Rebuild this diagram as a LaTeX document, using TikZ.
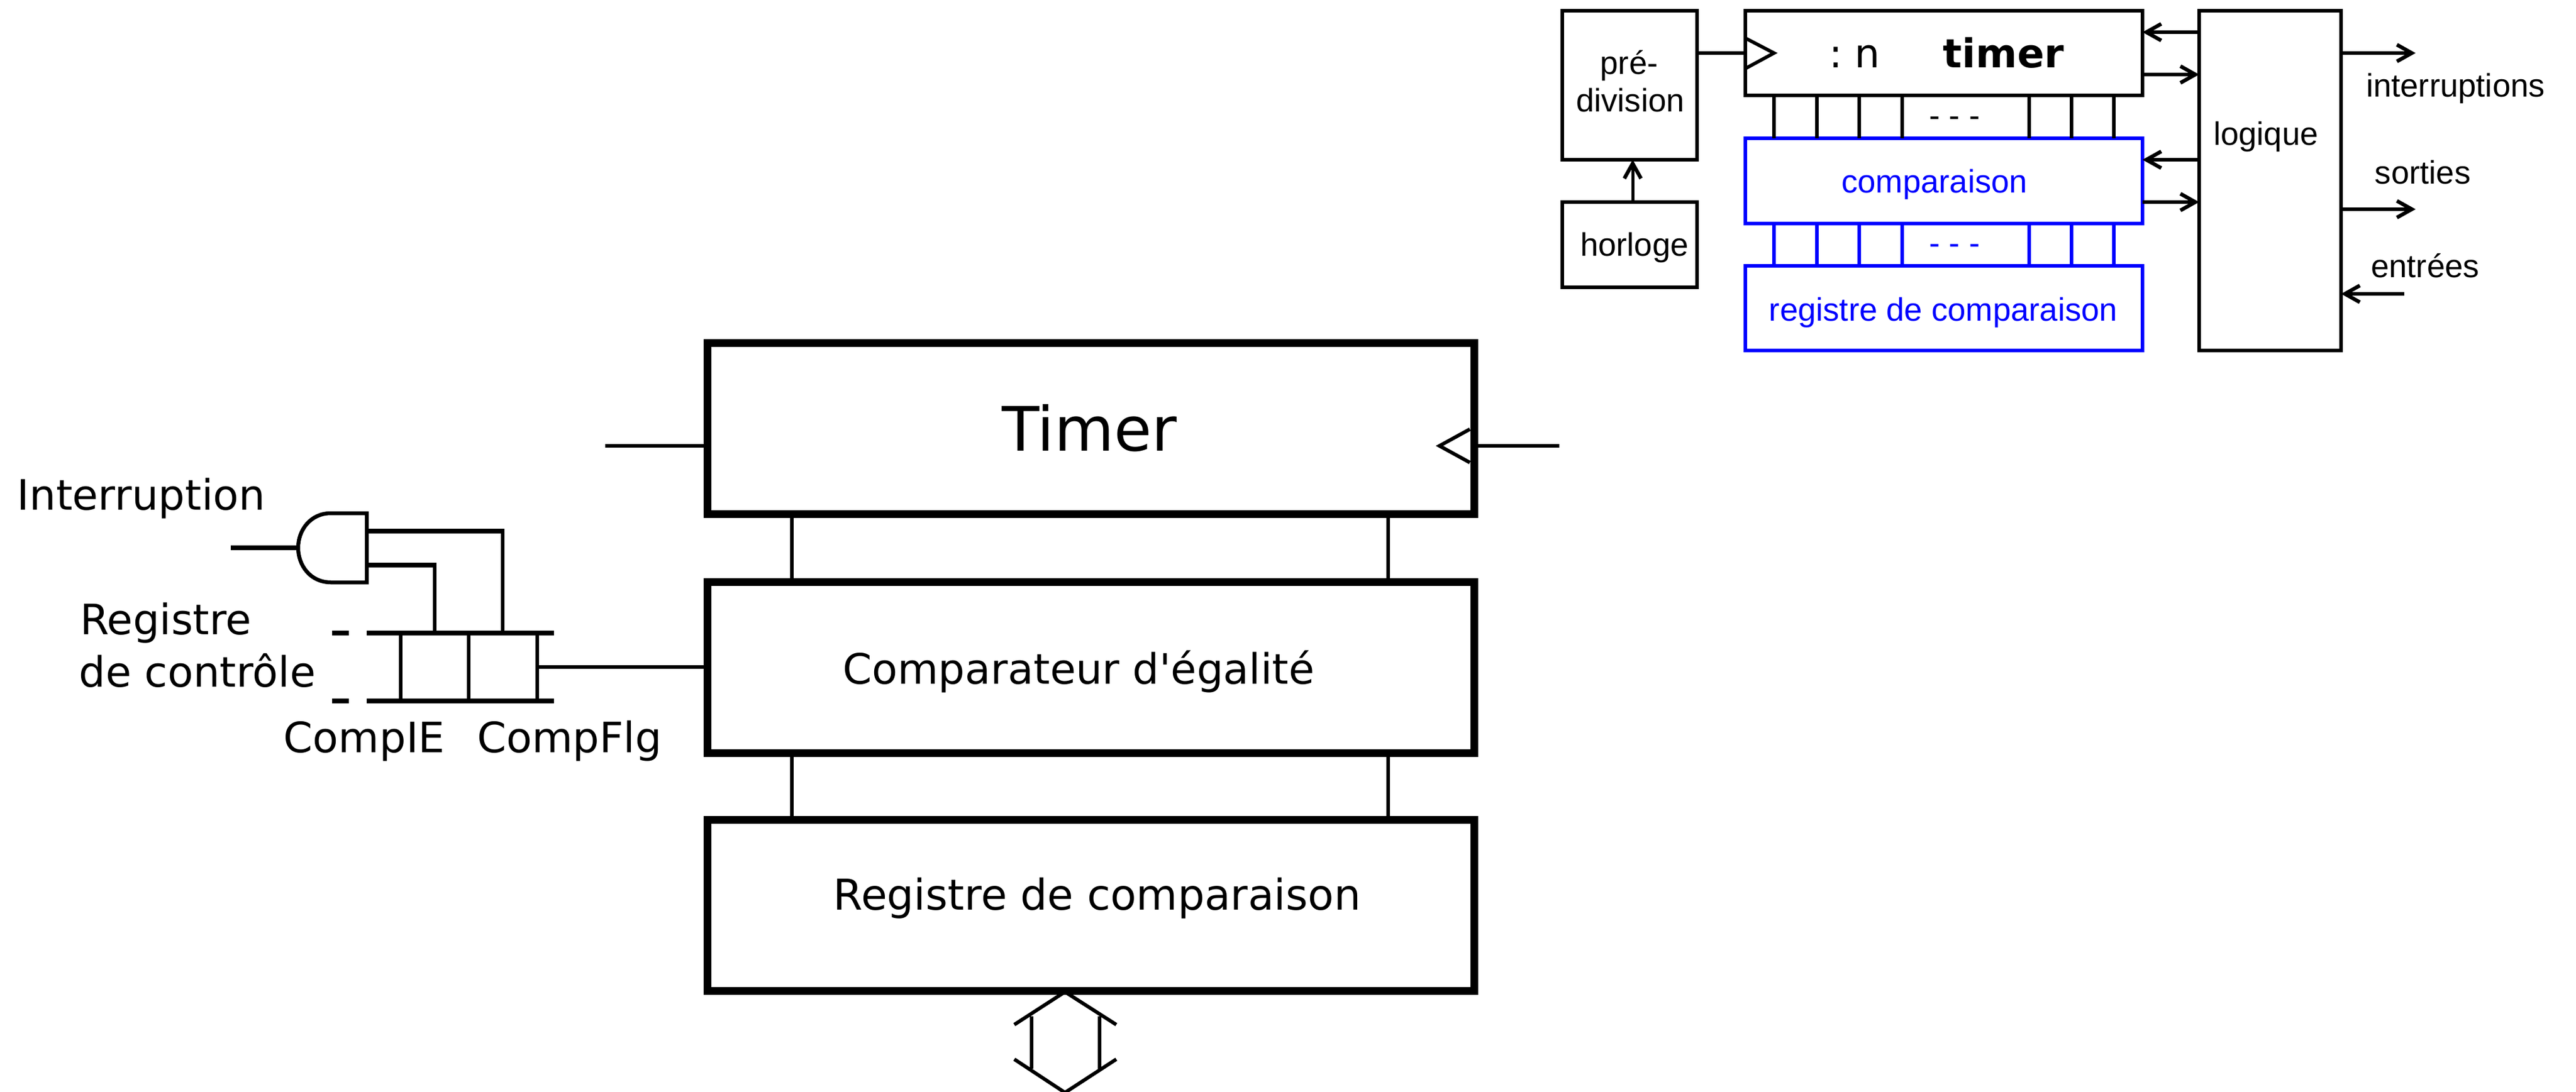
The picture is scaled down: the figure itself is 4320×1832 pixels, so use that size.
\documentclass[tikz,border=0pt]{standalone}
\usepackage{fontspec}
\setmainfont{DejaVu Sans}
\newfontfamily\arialf{Liberation Sans}
\usetikzlibrary{arrows.meta}
\definecolor{bleu}{RGB}{0,0,255}
\newcommand{\rect}[6]{\node[#2, minimum width={(#5-#3)*0.02cm}, minimum height={(#6-#4)*0.02cm}] (#1) at ({(#3+#5)/2},{(#4+#6)/2}) {};}
\newcommand{\apos}{\XeTeXglyph\XeTeXglyphindex"quotesingle"\relax}
\frenchspacing
\tikzset{
  x=0.02cm,y=-0.02cm,
  gros/.style={draw=black,line width=0.26cm,inner sep=0,outer sep=0},
  petit/.style={draw=black,line width=0.12cm,inner sep=0,outer sep=0},
  petitb/.style={draw=bleu,line width=0.12cm,inner sep=0,outer sep=0},
  fil/.style={line width=0.12cm},
  filh/.style={line width=0.145cm},
  filf/.style={line width=0.115cm},
  filb/.style={line width=0.115cm,draw=bleu},
  fl/.style={line width=0.125cm,-{Straight Barb[length=0.5cm,width=0.56cm,line width=0.125cm]}},
  lbl/.style={inner sep=0,outer sep=0,anchor=base,font=\fontsize{40}{40}\selectfont},
  lbr/.style={inner sep=0,outer sep=0,anchor=base,font=\fontsize{40.5}{40.5}\selectfont},
  tit/.style={inner sep=0,outer sep=0,anchor=base,font=\fontsize{58.5}{58.5}\selectfont},
  sm/.style={inner sep=0,outer sep=0,anchor=base,font=\arialf\fontsize{31}{31}\selectfont},
  smb/.style={sm,text=bleu},
}
\begin{document}
\begin{tikzpicture}
\useasboundingbox (0,0) rectangle (4320,1832);
% main boxes
\rect{T}{gros}{1186}{575}{2472}{862}
\rect{C}{gros}{1186}{976}{2472}{1263}
\rect{R}{gros}{1186}{1375}{2472}{1662}
\node[tit] (tT) at (1827,756) {Timer};
\node[lbl] (tC) at (1809,1147) {Comparateur d\apos égalité};
\node[lbr] (tR) at (1840,1526) {Registre de comparaison};
\coordinate (v1) at (1328,0);
\coordinate (v2) at (2328,0);
\draw[fil] (v1 |- T.south) -- (v1 |- C.north);
\draw[fil] (v2 |- T.south) -- (v2 |- C.north);
\draw[fil] (v1 |- C.south) -- (v1 |- R.north);
\draw[fil] (v2 |- C.south) -- (v2 |- R.north);
% timer leads
\coordinate (tl) at (1015,748);
\coordinate (tr) at (2615,748);
\draw[fil] (tl) -- (tl -| T.west);
\draw[fil] (tr) -- (tr -| T.east);
\coordinate (tri) at (2414,748);
\draw[fil,line join=miter] (2465,720) -- (tri) -- (2465,776);
% hex bus arrow
\coordinate (ha) at (1786,1664);
\coordinate (hb) at (1786,1833);
\draw[fil] (1701,1719) -- (ha) -- (1872,1719);
\draw[fil] (1701,1777) -- (hb) -- (1872,1777);
\draw[fil] (1730,1705) -- (1730,1793);
\draw[fil] (1844,1705) -- (1844,1793);
% and gate
\coordinate (g1) at (615,891);
\coordinate (g2) at (615,948);
\coordinate (gin) at (500,919);
\draw[line width=0.13cm,line join=miter] (615,861) -- (555,861) .. controls (520,861) and (500,890) .. (gin) .. controls (500,948) and (520,977) .. (555,977) -- (615,977) -- cycle;
\coordinate (wi) at (387,919);
\draw[filh] (wi) -- (gin);
% control register
\coordinate (rt) at (615,1062);
\coordinate (rtr) at (929,1062);
\coordinate (rb) at (615,1176);
\coordinate (rbr) at (929,1176);
\draw[filh] (rt) -- (rtr);
\draw[filh] (rb) -- (rbr);
\draw[filh] (557,1062) -- (585,1062);
\draw[filh] (557,1176) -- (585,1176);
\draw[fil] (672,1062) -- (672,1176);
\draw[fil] (786,1062) -- (786,1176);
\coordinate (cr) at (901,1119);
\draw[fil] (901,1062) -- (901,1176);
\draw[fil] (cr) -- (cr -| C.west);
\coordinate (a) at (729,1062);
\coordinate (b) at (843,1062);
\draw[fil] (a |- g2) -- (a);
\draw[fil] (b |- g1) -- (b);
\draw[filh] (g2) -- ([xshift=0.06cm]a |- g2);
\draw[filh] (g1) -- ([xshift=0.06cm]b |- g1);
\node[lbl] (tI) at (237,855) {Interruption};
\node[lbl] (tRc) at (278,1064) {Registre};
\node[lbl] (tDc) at (331,1152) {de contrôle};
\node[lbl] (tCi) at (611,1262) {CompIE};
\node[lbl] (tCf) at (955,1262) {CompFlg};
% small diagram
\rect{pd}{petit}{2620}{18}{2846}{268}
\rect{ho}{petit}{2620}{339}{2846}{482}
\rect{tm}{petit}{2927}{18}{3593}{160}
\rect{cp}{petitb}{2927}{232}{3593}{375}
\rect{rg}{petitb}{2927}{446}{3593}{588}
\rect{lo}{petit}{3688}{18}{3926}{588}
\node[sm] (s1) at (2732,124) {pré-};
\node[sm] (s2) at (2734,187) {division};
\node[sm] (s3) at (2741,429) {horloge};
\node[tit,font=\fontsize{38}{38}\selectfont] (s4) at (3110,113) {: n};
\node[tit,font=\bfseries\fontsize{38}{38}\selectfont] (s5) at (3360,113) {timer};
\node[smb] (s6) at (3244,323) {comparaison};
\node[smb] (s7) at (3259,538) {registre de comparaison};
\node[sm] (s8) at (3800,243) {logique};
\node[sm] (s9) at (4118,162) {interruptions};
\node[sm] (s10) at (4063,308) {sorties};
\node[sm] (s11) at (4067,465) {entrées};
\node[sm] (d1) at (3278,212) {- - -};
\node[smb] (d2) at (3278,426) {- - -};
\coordinate (pc) at (0,89);
\draw[filf] (pd.east |- pc) -- (tm.west |- pc);
\draw[filf,line join=miter] (2927,64) -- (2975,89) -- (2927,115);
\coordinate (hx) at (2738,0);
\draw[fl,line width=0.1cm] (hx |- ho.north) -- (hx |- pd.south);
\foreach \x/\n in {2975/a,3047/b,3118/c,3190/d,3403/e,3474/f,3545/g}{
  \coordinate (bus\n) at (\x,0);
  \draw[filf] (bus\n |- tm.south) -- (bus\n |- cp.north);
  \draw[filb] (bus\n |- cp.south) -- (bus\n |- rg.north);
}
\coordinate (y1) at (0,54);
\coordinate (y2) at (0,125);
\coordinate (y3) at (0,268);
\coordinate (y4) at (0,339);
\draw[fl] (lo.west |- y1) -- (tm.east |- y1);
\draw[fl] (tm.east |- y2) -- (lo.west |- y2);
\draw[fl] (lo.west |- y3) -- (cp.east |- y3);
\draw[fl] (cp.east |- y4) -- (lo.west |- y4);
\coordinate (o1) at (4051,89);
\coordinate (o2) at (4051,351);
\coordinate (o3) at (4032,493);
\draw[fl] (lo.east |- o1) -- (o1);
\draw[fl] (lo.east |- o2) -- (o2);
\draw[fl] (o3) -- (lo.east |- o3);
\end{tikzpicture}
\end{document}
